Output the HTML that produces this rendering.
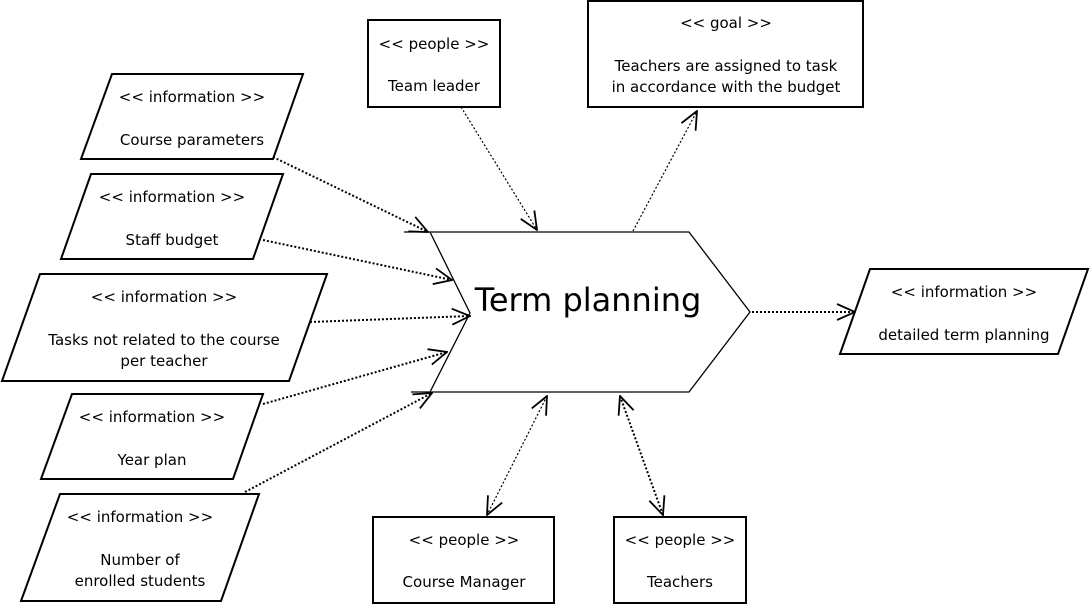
<!DOCTYPE html>
<html><head><meta charset="utf-8"><style>
html,body{margin:0;padding:0;background:#fff;}
svg{display:block;}
text{font-family:"DejaVu Sans","Liberation Sans",sans-serif;font-size:15px;fill:#000;}
</style></head><body>
<svg width="1091" height="605" viewBox="0 0 1091 605" xmlns="http://www.w3.org/2000/svg">
<defs>
<marker id="a" viewBox="0 0 20 20" refX="19" refY="10" markerWidth="20" markerHeight="20" markerUnits="userSpaceOnUse" orient="auto-start-reverse">
<path d="M1,2 L19,10 L1,18" fill="none" stroke="#000" stroke-width="1.8"/>
</marker>
</defs>
<g fill="#fff" stroke="#000" stroke-width="2">
<polygon points="112,74 303,74 273,159 81,159"/>
<polygon points="91,174 283,174 253,259 61,259"/>
<polygon points="40,274 327,274 289,381 2,381"/>
<polygon points="72,394 263,394 233,479 41,479"/>
<polygon points="60,494 259,494 221,601 21,601"/>
<polygon points="870,269 1088,269 1058,354 840,354"/>
<rect x="368" y="20" width="132" height="87"/>
<rect x="588" y="1" width="275" height="106"/>
<rect x="373" y="517" width="181" height="86"/>
<rect x="614" y="517" width="132" height="86"/>
</g>
<g fill="none" stroke="#000" stroke-width="1.3">
<polyline points="404,232 689,232 750,312 689,392 411,392"/>
<polyline points="430,232 470,313 430,392"/>
</g>
<g fill="none" stroke="#000" stroke-width="2" stroke-dasharray="2,2">
<line x1="273" y1="157" x2="428" y2="232" marker-end="url(#a)"/>
<line x1="263" y1="240" x2="452" y2="280" marker-end="url(#a)"/>
<line x1="310" y1="322" x2="470" y2="316" marker-end="url(#a)"/>
<line x1="263" y1="404" x2="447" y2="352" marker-end="url(#a)"/>
<line x1="245" y1="492" x2="432" y2="393" marker-end="url(#a)"/>
<line x1="752" y1="312" x2="855" y2="312" marker-end="url(#a)"/>
</g>
<g fill="none" stroke="#000" stroke-width="1.2" stroke-dasharray="2,2">
<line x1="461" y1="107" x2="537" y2="230" marker-end="url(#a)"/>
<line x1="633" y1="231" x2="697" y2="111" marker-end="url(#a)"/>
<line x1="547" y1="396" x2="487" y2="515" marker-start="url(#a)" marker-end="url(#a)"/>
<line x1="620" y1="396" x2="663" y2="515" marker-start="url(#a)" marker-end="url(#a)" stroke-width="2"/>
</g>
<g text-anchor="middle">
<text x="192" y="102">&lt;&lt; information &gt;&gt;</text>
<text x="192" y="145">Course parameters</text>
<text x="172" y="202">&lt;&lt; information &gt;&gt;</text>
<text x="172" y="245">Staff budget</text>
<text x="164" y="302">&lt;&lt; information &gt;&gt;</text>
<text x="164" y="345">Tasks not related to the course</text>
<text x="164" y="366">per teacher</text>
<text x="152" y="422">&lt;&lt; information &gt;&gt;</text>
<text x="152" y="465">Year plan</text>
<text x="140" y="522">&lt;&lt; information &gt;&gt;</text>
<text x="140" y="565">Number of</text>
<text x="140" y="586">enrolled students</text>
<text x="964" y="297">&lt;&lt; information &gt;&gt;</text>
<text x="964" y="340">detailed term planning</text>
<text x="434" y="49">&lt;&lt; people &gt;&gt;</text>
<text x="434" y="91">Team leader</text>
<text x="726" y="28">&lt;&lt; goal &gt;&gt;</text>
<text x="726" y="71">Teachers are assigned to task</text>
<text x="726" y="92">in accordance with the budget</text>
<text x="464" y="545">&lt;&lt; people &gt;&gt;</text>
<text x="464" y="587">Course Manager</text>
<text x="680" y="545">&lt;&lt; people &gt;&gt;</text>
<text x="680" y="587">Teachers</text>
<text x="588" y="311" style="font-size:32px">Term planning</text>
</g>
</svg>
</body></html>
